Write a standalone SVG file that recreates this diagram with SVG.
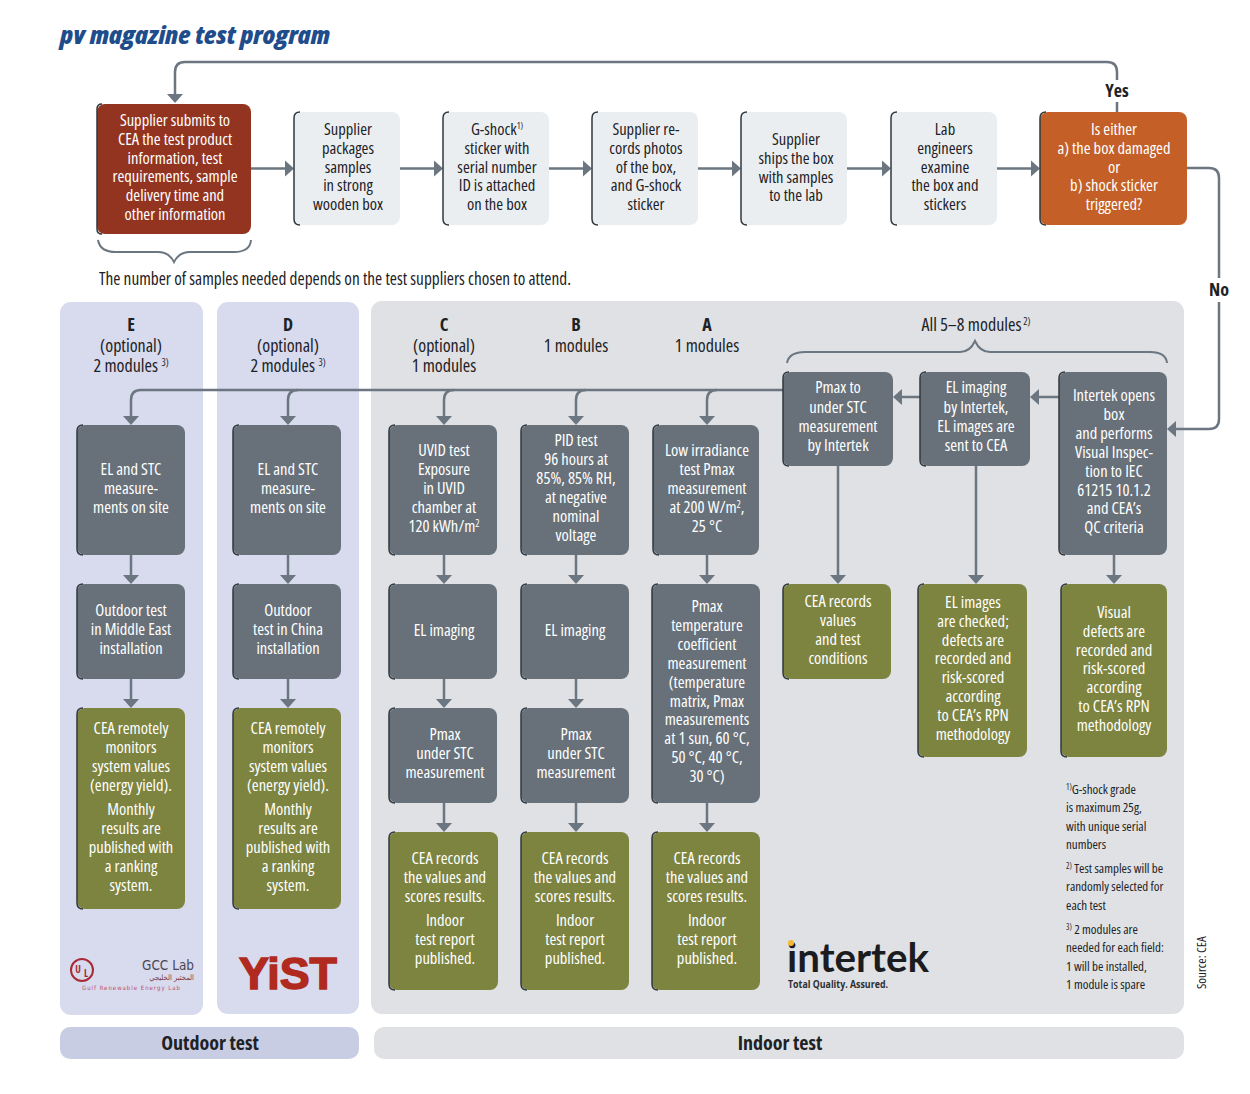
<svg xmlns="http://www.w3.org/2000/svg" width="1250" height="1094" viewBox="0 0 1250 1094">
<style>
text{font-family:"Open Sans","Liberation Sans",sans-serif;font-stretch:75%;font-weight:500}
.t{font-size:16.500px;text-anchor:middle;fill:#1d2226}
.w{font-size:16.500px;text-anchor:middle;fill:#fff}
.h{font-size:18px;text-anchor:middle;fill:#1d2226}
.b{font-weight:700}
.l{font-size:20px;font-weight:700;text-anchor:middle;fill:#1d2226}
.f{font-size:13px;fill:#1d2226}
.gray{fill:#68717a}.olive{fill:#7d8440}.light{fill:#ebeef1}
.edge{fill:none;stroke:#2f383f;stroke-width:1.500}
.c{fill:none;stroke:#6b7680;stroke-width:2.500}
.ar{marker-end:url(#a)}
.br{fill:none;stroke:#6b7680;stroke-width:2}
</style>
<defs><marker id="a" markerUnits="userSpaceOnUse" markerWidth="10" markerHeight="18" refX="6" refY="9" orient="auto"><path d="M0 1L9 9L0 17Z" fill="#6b7680"/></marker></defs>
<rect width="1250" height="1094" fill="#fff"/>
<text x="60" y="44" textLength="270" lengthAdjust="spacingAndGlyphs" style="font-size:24px;font-weight:800;font-style:italic;font-stretch:87%;fill:#1f4d8c">pv magazine test program</text>
<g id="panels">
<rect x="60" y="302" width="143" height="713" rx="11" fill="#d8daee"/>
<rect x="217" y="302" width="142" height="712" rx="11" fill="#d8daee"/>
<rect x="371" y="301" width="813" height="713" rx="11" fill="#dfe1e4"/>
<rect x="60" y="1027" width="299" height="32" rx="10" fill="#c9cde3"/>
<rect x="374" y="1027" width="810" height="32" rx="10" fill="#dfe1e4"/>
<text class="l" x="210" y="1050">Outdoor test</text>
<text class="l" x="780" y="1050">Indoor test</text>
</g>
<g id="connectors">
<path class="c ar" d="M1117 112V72q0-10-10-10H185q-10 0-10 10V100"/>
<path class="c ar" d="M251 168.500H291"/><path class="c ar" d="M400 168.500H440"/><path class="c ar" d="M549 168.500H589"/><path class="c ar" d="M698 168.500H738"/><path class="c ar" d="M847 168.500H888"/><path class="c ar" d="M997 168.500H1037"/>
<path class="c ar" d="M1187 168H1209q10 0 10 10V419q0 10-10 10H1170"/>
<path class="c ar" d="M1059 397H1033"/><path class="c ar" d="M920 397H896"/>
<path class="c" d="M783 390H141"/>
<path class="c ar" d="M141 390q-10 0-10 10V422"/><path class="c ar" d="M298 390q-10 0-10 10V422"/><path class="c ar" d="M454 390q-10 0-10 10V422"/><path class="c ar" d="M586 390q-10 0-10 10V422"/><path class="c ar" d="M717 390q-10 0-10 10V422"/>
<path class="c ar" d="M131 555V581"/><path class="c ar" d="M131 679V705"/>
<path class="c ar" d="M288 555V581"/><path class="c ar" d="M288 679V705"/>
<path class="c ar" d="M444 555V581"/><path class="c ar" d="M444 679V705"/><path class="c ar" d="M444 803V829"/>
<path class="c ar" d="M576 555V581"/><path class="c ar" d="M576 679V705"/><path class="c ar" d="M576 803V829"/>
<path class="c ar" d="M707 555V581"/><path class="c ar" d="M707 803V829"/>
<path class="c ar" d="M838 466V581"/><path class="c ar" d="M976 466V581"/><path class="c ar" d="M1114 555V581"/>
<path class="br" d="M98 240q2 12 18 12H158q11 0 16 10q5-10 16-10H234q16 0 17-12"/>
<path class="br" d="M787 363q2-11 18-11H960q10 0 15-11q5 11 15 11H1150q16 0 17 11"/>
<rect x="1100" y="80" width="34" height="22" fill="#fff"/>
<rect x="1205" y="278" width="30" height="24" fill="#fff"/>
</g>
<text class="h b" x="1117" y="97">Yes</text>
<text class="h b" x="1219" y="296">No</text>
<text x="99" y="285" style="font-size:18px;fill:#1d2226" textLength="472" lengthAdjust="spacingAndGlyphs">The number of samples needed depends on the test suppliers chosen to attend.</text>

<g id="n-submit"><rect x="97" y="104" width="154" height="130" rx="8" fill="#933420"/><path class="edge" d="M102 104q-5 0-5 5V229q0 5 5 5"/>
<text class="w" y="126"><tspan x="175">Supplier submits to</tspan><tspan x="175" dy="18.800">CEA the test product</tspan><tspan x="175" dy="18.800">information, test</tspan><tspan x="175" dy="18.800">requirements, sample</tspan><tspan x="175" dy="18.800">delivery time and</tspan><tspan x="175" dy="18.800">other information</tspan></text></g>
<g id="n-packages"><rect class="light" x="294" y="112" width="106" height="113" rx="8"/><path class="edge" d="M300 112q-6 0-6 6V219q0 6 6 6"/>
<text class="t" y="135"><tspan x="348">Supplier</tspan><tspan x="348" dy="18.800">packages</tspan><tspan x="348" dy="18.800">samples</tspan><tspan x="348" dy="18.800">in strong</tspan><tspan x="348" dy="18.800">wooden box</tspan></text></g>
<g id="n-gshock"><rect class="light" x="443" y="112" width="106" height="113" rx="8"/><path class="edge" d="M449 112q-6 0-6 6V219q0 6 6 6"/>
<text class="t" y="135"><tspan x="497">G-shock<tspan font-size="9" dy="-6">1)</tspan></tspan><tspan x="497" dy="24.800">sticker with</tspan><tspan x="497" dy="18.800">serial number</tspan><tspan x="497" dy="18.800">ID is attached</tspan><tspan x="497" dy="18.800">on the box</tspan></text></g>
<g id="n-photos"><rect class="light" x="592" y="112" width="106" height="113" rx="8"/><path class="edge" d="M598 112q-6 0-6 6V219q0 6 6 6"/>
<text class="t" y="135"><tspan x="646">Supplier re-</tspan><tspan x="646" dy="18.800">cords photos</tspan><tspan x="646" dy="18.800">of the box,</tspan><tspan x="646" dy="18.800">and G-shock</tspan><tspan x="646" dy="18.800">sticker</tspan></text></g>
<g id="n-ships"><rect class="light" x="741" y="112" width="106" height="113" rx="8"/><path class="edge" d="M747 112q-6 0-6 6V219q0 6 6 6"/>
<text class="t" y="145"><tspan x="796">Supplier</tspan><tspan x="796" dy="18.800">ships the box</tspan><tspan x="796" dy="18.800">with samples</tspan><tspan x="796" dy="18.800">to the lab</tspan></text></g>
<g id="n-lab"><rect class="light" x="891" y="112" width="106" height="113" rx="8"/><path class="edge" d="M897 112q-6 0-6 6V219q0 6 6 6"/>
<text class="t" y="135"><tspan x="945">Lab</tspan><tspan x="945" dy="18.800">engineers</tspan><tspan x="945" dy="18.800">examine</tspan><tspan x="945" dy="18.800">the box and</tspan><tspan x="945" dy="18.800">stickers</tspan></text></g>
<g id="n-question"><rect x="1040" y="112" width="147" height="113" rx="8" fill="#c46027"/><path class="edge" d="M1046 112q-6 0-6 6V219q0 6 6 6"/>
<text class="w" y="135"><tspan x="1114">Is either</tspan><tspan x="1114" dy="18.800">a) the box damaged</tspan><tspan x="1114" dy="18.800">or</tspan><tspan x="1114" dy="18.800">b) shock sticker</tspan><tspan x="1114" dy="18.800">triggered?</tspan></text></g>

<g id="heads">
<text class="h" y="331"><tspan x="131" class="b">E</tspan><tspan x="131" dy="21">(optional)</tspan><tspan x="131" dy="20">2 modules <tspan font-size="10" dy="-6">3)</tspan></tspan></text>
<text class="h" y="331"><tspan x="288" class="b">D</tspan><tspan x="288" dy="21">(optional)</tspan><tspan x="288" dy="20">2 modules <tspan font-size="10" dy="-6">3)</tspan></tspan></text>
<text class="h" y="331"><tspan x="444" class="b">C</tspan><tspan x="444" dy="21">(optional)</tspan><tspan x="444" dy="20">1 modules</tspan></text>
<text class="h" y="331"><tspan x="576" class="b">B</tspan><tspan x="576" dy="21">1 modules</tspan></text>
<text class="h" y="331"><tspan x="707" class="b">A</tspan><tspan x="707" dy="21">1 modules</tspan></text>
<text class="h" x="976" y="331">All 5–8 modules<tspan font-size="10" dy="-6"> 2)</tspan></text>
</g>

<g id="n-e1"><rect class="gray" x="77" y="425" width="108" height="130" rx="8"/><path class="edge" d="M83 425q-6 0-6 6V549q0 6 6 6"/><text class="w" y="475"><tspan x="131">EL and STC</tspan><tspan x="131" dy="19">measure-</tspan><tspan x="131" dy="19">ments on site</tspan></text></g>
<g id="n-e2"><rect class="gray" x="77" y="584" width="108" height="95" rx="8"/><path class="edge" d="M83 584q-6 0-6 6V673q0 6 6 6"/><text class="w" y="616"><tspan x="131">Outdoor test</tspan><tspan x="131" dy="19">in Middle East</tspan><tspan x="131" dy="19">installation</tspan></text></g>
<g id="n-e3"><rect class="olive" x="77" y="708" width="108" height="201" rx="8"/><path class="edge" d="M83 708q-6 0-6 6V903q0 6 6 6"/><text class="w" y="734"><tspan x="131">CEA remotely</tspan><tspan x="131" dy="19">monitors</tspan><tspan x="131" dy="19">system values</tspan><tspan x="131" dy="19">(energy yield).</tspan><tspan x="131" dy="24">Monthly</tspan><tspan x="131" dy="19">results are</tspan><tspan x="131" dy="19">published with</tspan><tspan x="131" dy="19">a ranking</tspan><tspan x="131" dy="19">system.</tspan></text></g>

<g id="n-d1"><rect class="gray" x="233" y="425" width="108" height="130" rx="8"/><path class="edge" d="M239 425q-6 0-6 6V549q0 6 6 6"/><text class="w" y="475"><tspan x="288">EL and STC</tspan><tspan x="288" dy="19">measure-</tspan><tspan x="288" dy="19">ments on site</tspan></text></g>
<g id="n-d2"><rect class="gray" x="233" y="584" width="108" height="95" rx="8"/><path class="edge" d="M239 584q-6 0-6 6V673q0 6 6 6"/><text class="w" y="616"><tspan x="288">Outdoor</tspan><tspan x="288" dy="19">test in China</tspan><tspan x="288" dy="19">installation</tspan></text></g>
<g id="n-d3"><rect class="olive" x="233" y="708" width="108" height="201" rx="8"/><path class="edge" d="M239 708q-6 0-6 6V903q0 6 6 6"/><text class="w" y="734"><tspan x="288">CEA remotely</tspan><tspan x="288" dy="19">monitors</tspan><tspan x="288" dy="19">system values</tspan><tspan x="288" dy="19">(energy yield).</tspan><tspan x="288" dy="24">Monthly</tspan><tspan x="288" dy="19">results are</tspan><tspan x="288" dy="19">published with</tspan><tspan x="288" dy="19">a ranking</tspan><tspan x="288" dy="19">system.</tspan></text></g>

<g id="n-c1"><rect class="gray" x="389" y="425" width="108" height="130" rx="8"/><path class="edge" d="M395 425q-6 0-6 6V549q0 6 6 6"/><text class="w" y="456"><tspan x="444">UVID test</tspan><tspan x="444" dy="19">Exposure</tspan><tspan x="444" dy="19">in UVID</tspan><tspan x="444" dy="19">chamber at</tspan><tspan x="444" dy="19">120 kWh/m<tspan font-size="10" dy="-5">2</tspan></tspan></text></g>
<g id="n-c2"><rect class="gray" x="389" y="584" width="108" height="95" rx="8"/><path class="edge" d="M395 584q-6 0-6 6V673q0 6 6 6"/><text class="w" x="444" y="636">EL imaging</text></g>
<g id="n-c3"><rect class="gray" x="389" y="708" width="108" height="95" rx="8"/><path class="edge" d="M395 708q-6 0-6 6V797q0 6 6 6"/><text class="w" y="740"><tspan x="445">Pmax</tspan><tspan x="445" dy="19">under STC</tspan><tspan x="445" dy="19">measurement</tspan></text></g>
<g id="n-c4"><rect class="olive" x="389" y="832" width="109" height="158" rx="8"/><path class="edge" d="M395 832q-6 0-6 6V984q0 6 6 6"/><text class="w" y="864"><tspan x="445">CEA records</tspan><tspan x="445" dy="19">the values and</tspan><tspan x="445" dy="19">scores results.</tspan><tspan x="445" dy="24">Indoor</tspan><tspan x="445" dy="19">test report</tspan><tspan x="445" dy="19">published.</tspan></text></g>

<g id="n-b1"><rect class="gray" x="521" y="425" width="108" height="130" rx="8"/><path class="edge" d="M527 425q-6 0-6 6V549q0 6 6 6"/><text class="w" y="446"><tspan x="576">PID test</tspan><tspan x="576" dy="19">96 hours at</tspan><tspan x="576" dy="19">85%, 85% RH,</tspan><tspan x="576" dy="19">at negative</tspan><tspan x="576" dy="19">nominal</tspan><tspan x="576" dy="19">voltage</tspan></text></g>
<g id="n-b2"><rect class="gray" x="521" y="584" width="108" height="95" rx="8"/><path class="edge" d="M527 584q-6 0-6 6V673q0 6 6 6"/><text class="w" x="575" y="636">EL imaging</text></g>
<g id="n-b3"><rect class="gray" x="521" y="708" width="108" height="95" rx="8"/><path class="edge" d="M527 708q-6 0-6 6V797q0 6 6 6"/><text class="w" y="740"><tspan x="576">Pmax</tspan><tspan x="576" dy="19">under STC</tspan><tspan x="576" dy="19">measurement</tspan></text></g>
<g id="n-b4"><rect class="olive" x="521" y="832" width="108" height="158" rx="8"/><path class="edge" d="M527 832q-6 0-6 6V984q0 6 6 6"/><text class="w" y="864"><tspan x="575">CEA records</tspan><tspan x="575" dy="19">the values and</tspan><tspan x="575" dy="19">scores results.</tspan><tspan x="575" dy="24">Indoor</tspan><tspan x="575" dy="19">test report</tspan><tspan x="575" dy="19">published.</tspan></text></g>

<g id="n-a1"><rect class="gray" x="653" y="425" width="106" height="130" rx="8"/><path class="edge" d="M659 425q-6 0-6 6V549q0 6 6 6"/><text class="w" y="456"><tspan x="707">Low irradiance</tspan><tspan x="707" dy="19">test Pmax</tspan><tspan x="707" dy="19">measurement</tspan><tspan x="707" dy="19">at 200 W/m<tspan font-size="10" dy="-5">2</tspan><tspan dy="5">,</tspan></tspan><tspan x="707" dy="19">25 °C</tspan></text></g>
<g id="n-a2"><rect class="gray" x="652" y="584" width="108" height="219" rx="8"/><path class="edge" d="M658 584q-6 0-6 6V797q0 6 6 6"/><text class="w" y="612"><tspan x="707">Pmax</tspan><tspan x="707" dy="18.900">temperature</tspan><tspan x="707" dy="18.900">coefficient</tspan><tspan x="707" dy="18.900">measurement</tspan><tspan x="707" dy="18.900">(temperature</tspan><tspan x="707" dy="18.900">matrix, Pmax</tspan><tspan x="707" dy="18.900">measurements</tspan><tspan x="707" dy="18.900">at 1 sun, 60 °C,</tspan><tspan x="707" dy="18.900">50 °C, 40 °C,</tspan><tspan x="707" dy="18.900">30 °C)</tspan></text></g>
<g id="n-a3"><rect class="olive" x="652" y="832" width="108" height="158" rx="8"/><path class="edge" d="M658 832q-6 0-6 6V984q0 6 6 6"/><text class="w" y="864"><tspan x="707">CEA records</tspan><tspan x="707" dy="19">the values and</tspan><tspan x="707" dy="19">scores results.</tspan><tspan x="707" dy="24">Indoor</tspan><tspan x="707" dy="19">test report</tspan><tspan x="707" dy="19">published.</tspan></text></g>

<g id="n-pmax"><rect class="gray" x="783" y="372" width="110" height="94" rx="8"/><path class="edge" d="M789 372q-6 0-6 6V460q0 6 6 6"/><text class="w" y="393"><tspan x="838">Pmax to</tspan><tspan x="838" dy="19.500">under STC</tspan><tspan x="838" dy="19">measurement</tspan><tspan x="838" dy="19">by Intertek</tspan></text></g>
<g id="n-el"><rect class="gray" x="920" y="372" width="110" height="94" rx="8"/><path class="edge" d="M926 372q-6 0-6 6V460q0 6 6 6"/><text class="w" y="393"><tspan x="976">EL imaging</tspan><tspan x="976" dy="19.500">by Intertek,</tspan><tspan x="976" dy="19">EL images are</tspan><tspan x="976" dy="19">sent to CEA</tspan></text></g>
<g id="n-open"><rect class="gray" x="1059" y="372" width="108" height="183" rx="8"/><path class="edge" d="M1065 372q-6 0-6 6V549q0 6 6 6"/><text class="w" y="401"><tspan x="1114">Intertek opens</tspan><tspan x="1114" dy="18.900">box</tspan><tspan x="1114" dy="18.900">and performs</tspan><tspan x="1114" dy="18.900">Visual Inspec-</tspan><tspan x="1114" dy="18.900">tion to IEC</tspan><tspan x="1114" dy="18.900">61215 10.1.2</tspan><tspan x="1114" dy="18.900">and CEA’s</tspan><tspan x="1114" dy="18.900">QC criteria</tspan></text></g>
<g id="n-rec"><rect class="olive" x="783" y="584" width="108" height="95" rx="8"/><path class="edge" d="M789 584q-6 0-6 6V673q0 6 6 6"/><text class="w" y="607"><tspan x="838">CEA records</tspan><tspan x="838" dy="19">values</tspan><tspan x="838" dy="19">and test</tspan><tspan x="838" dy="19">conditions</tspan></text></g>
<g id="n-elc"><rect class="olive" x="918" y="584" width="109" height="173" rx="8"/><path class="edge" d="M924 584q-6 0-6 6V751q0 6 6 6"/><text class="w" y="608"><tspan x="973">EL images</tspan><tspan x="973" dy="18.800">are checked;</tspan><tspan x="973" dy="18.800">defects are</tspan><tspan x="973" dy="18.800">recorded and</tspan><tspan x="973" dy="18.800">risk-scored</tspan><tspan x="973" dy="18.800">according</tspan><tspan x="973" dy="18.800">to CEA’s RPN</tspan><tspan x="973" dy="18.800">methodology</tspan></text></g>
<g id="n-vis"><rect class="olive" x="1061" y="584" width="106" height="173" rx="8"/><path class="edge" d="M1067 584q-6 0-6 6V751q0 6 6 6"/><text class="w" y="618"><tspan x="1114">Visual</tspan><tspan x="1114" dy="18.800">defects are</tspan><tspan x="1114" dy="18.800">recorded and</tspan><tspan x="1114" dy="18.800">risk-scored</tspan><tspan x="1114" dy="18.800">according</tspan><tspan x="1114" dy="18.800">to CEA’s RPN</tspan><tspan x="1114" dy="18.800">methodology</tspan></text></g>

<g id="notes">
<text class="f" y="794"><tspan x="1066" font-size="8" dy="-4">1)</tspan><tspan dy="4">G-shock grade</tspan><tspan x="1066" dy="18.300">is maximum 25g,</tspan><tspan x="1066" dy="18.300">with unique serial</tspan><tspan x="1066" dy="18.300">numbers</tspan></text>
<text class="f" y="873"><tspan x="1066" font-size="8" dy="-4">2)</tspan><tspan dy="4"> Test samples will be</tspan><tspan x="1066" dy="18.300">randomly selected for</tspan><tspan x="1066" dy="18.300">each test</tspan></text>
<text class="f" y="934"><tspan x="1066" font-size="8" dy="-4">3)</tspan><tspan dy="4"> 2 modules are</tspan><tspan x="1066" dy="18.300">needed for each field:</tspan><tspan x="1066" dy="18.300">1 will be installed,</tspan><tspan x="1066" dy="18.300">1 module is spare</tspan></text>
<text class="f" transform="translate(1206 989) rotate(-90)">Source: CEA</text>
</g>
<g id="logos">
<circle cx="82" cy="970" r="11" fill="none" stroke="#a82a35" stroke-width="2"/>
<text x="78" y="973" style="font-size:10px;font-weight:700;fill:#a82a35;text-anchor:middle">U</text><text x="86" y="977" style="font-size:10px;font-weight:700;fill:#a82a35;text-anchor:middle">L</text>
<text x="142" y="970" textLength="52" lengthAdjust="spacingAndGlyphs" style="font-family:'DejaVu Sans',sans-serif;font-size:14px;fill:#4a4652">GCC Lab</text>
<text x="194" y="980" style="font-family:'DejaVu Sans',sans-serif;font-size:7.500px;fill:#7a3a48;text-anchor:end">المختبر الخليجي</text>
<text x="82" y="990" textLength="98" lengthAdjust="spacing" style="font-family:'DejaVu Sans',sans-serif;font-size:6px;fill:#b8506a">Gulf Renewable Energy Lab</text>
<text x="239" y="989" textLength="98" lengthAdjust="spacingAndGlyphs" style="font-family:'Liberation Sans',sans-serif;font-size:45px;font-weight:700;fill:#b02a20;stroke:#b02a20;stroke-width:1.500">YiST</text>
<text x="787" y="972" textLength="142" lengthAdjust="spacingAndGlyphs" style="font-family:Lato,sans-serif;font-size:40px;font-weight:700;fill:#1b1c20">intertek</text>
<circle cx="791" cy="943" r="3" fill="#f5b82e"/>
<text x="788" y="988" textLength="100" lengthAdjust="spacingAndGlyphs" style="font-stretch:100%;font-size:10px;font-weight:700;fill:#2c2e33">Total Quality. Assured.</text>
</g>
</svg>
